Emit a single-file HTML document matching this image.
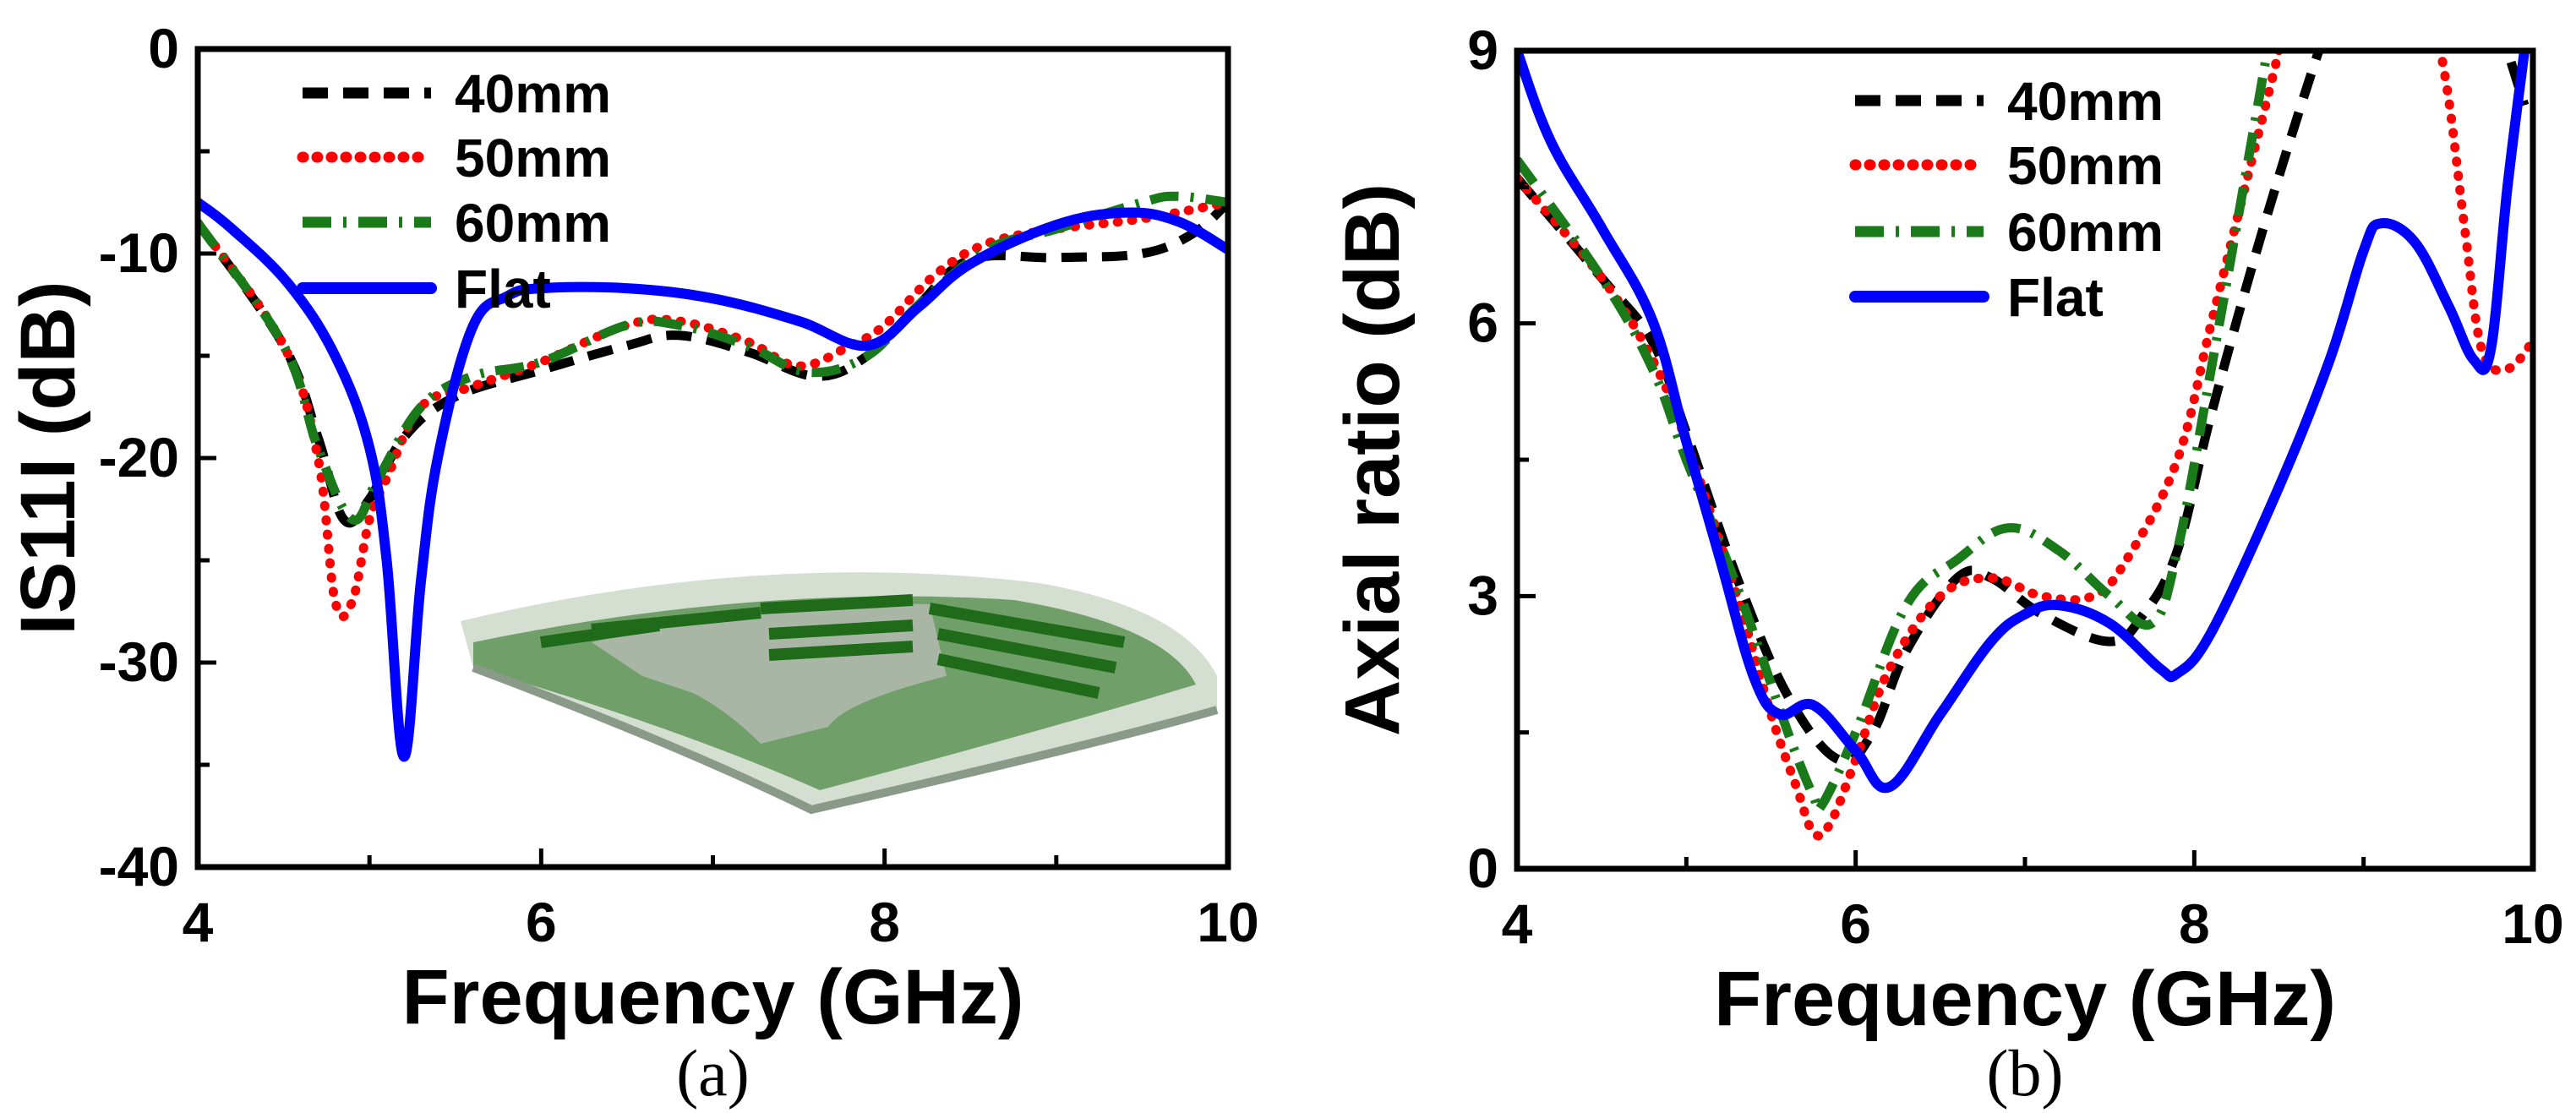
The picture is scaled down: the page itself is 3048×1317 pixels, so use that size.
<!DOCTYPE html>
<html><head><meta charset="utf-8"><style>
html,body{margin:0;padding:0;background:#fff;}
svg{display:block;font-family:"Liberation Sans",Arial,sans-serif;}
</style></head><body>
<svg id="fig" width="3048" height="1317" viewBox="0 0 3048 1317" xmlns="http://www.w3.org/2000/svg">
<g id="inset">
  <path d="M545,735 Q900,650 1230,690 Q1400,720 1440,800 L1440,840 Q1300,880 960,958 Q800,880 560,790 Z" fill="#c9d6c6" opacity="0.8"/>
  <path d="M560,760 Q900,690 1200,710 Q1380,740 1415,810 Q1250,860 970,935 Q800,860 560,790 Z" fill="#4f8a45" opacity="0.75"/>
  <path d="M700,760 Q900,710 1100,715 L1120,800 Q1000,830 980,860 L900,880 Q860,840 820,820 L760,800 Z" fill="#a9b6a6"/>
  <path d="M640,760 L780,740 M700,745 L900,725 M900,720 L1080,710 M1100,720 L1330,760 M1110,750 L1320,790 M1110,780 L1300,820 M910,750 L1080,740 M910,775 L1080,765" stroke="#1f6b1a" stroke-width="14" fill="none"/>
  <path d="M560,790 Q800,880 960,958 Q1300,880 1440,840" stroke="#8a9a88" stroke-width="10" fill="none"/>
</g>
</svg>
<script>
// ---------- Panel (a) data ----------
const aTicksX = [4,6,8,10];
const aTicksY = [0,-10,-20,-30,-40];
const aFlatX = [4,4.2,4.53,4.8,5.0,5.1,5.2,5.3,5.4,5.6,5.8,6.0,6.5,7.0,7.5,7.9,8.2,8.5,9.0,9.4,9.7,10];
const aFlatY = [-7.5,-8.8,-11.5,-15,-19.5,-25,-34.6,-26,-19.9,-13.6,-12.1,-11.7,-11.7,-12.2,-13.3,-14.5,-12.6,-10.5,-8.6,-8,-8.4,-9.8];
const a40X = [4,4.5,4.7,4.85,5.0,5.2,5.5,6.0,6.5,6.8,7.2,7.6,7.9,8.2,8.5,9.0,9.5,9.8,10];
const a40Y = [-8.5,-14.5,-19,-23,-22,-19,-17,-15.7,-14.5,-14,-14.8,-16,-15,-12.5,-10.3,-10.2,-10,-9,-7.5];
const a50X = [4,4.5,4.7,4.8,4.9,5.0,5.1,5.3,5.6,6.0,6.5,6.8,7.2,7.5,7.8,8.0,8.3,8.6,9.0,9.5,10];
const a50Y = [-8.5,-14.5,-20,-27,-27,-23,-21,-17.5,-16.5,-15.3,-13.5,-13.3,-14.3,-15.5,-14.5,-13.5,-11,-9.5,-8.8,-8.3,-7.5];
const a60X = [4,4.5,4.7,4.9,5.05,5.3,5.6,6.0,6.5,6.8,7.2,7.55,7.9,8.2,8.6,9.0,9.5,9.7,10];
const a60Y = [-8.5,-14.5,-19.5,-23,-21,-17.5,-16,-15.3,-13.5,-13.5,-14.5,-15.8,-15,-12.5,-9.8,-8.8,-7.5,-7.2,-7.5];
// ---------- Panel (b) data ----------
const bTicksX = [4,6,8,10];
const bTicksY = [0,3,6,9];
const bFlatX = [4,4.2,4.5,4.8,5.0,5.2,5.4,5.55,5.75,6.0,6.2,6.5,6.8,7.0,7.2,7.5,7.8,7.9,8.1,8.5,8.8,9.0,9.1,9.3,9.5,9.65,9.75,9.85,9.95];
const bFlatY = [9,8.0,7.05,6.03,4.7,3.4,2.1,1.7,1.8,1.3,0.9,1.7,2.5,2.8,2.9,2.7,2.2,2.15,2.6,4.2,5.6,6.8,7.1,6.9,6.2,5.6,5.7,7.5,9];
const b40X = [4,4.5,4.8,5.0,5.3,5.6,5.9,6.1,6.3,6.6,6.8,7.1,7.5,7.7,7.9,8.1,8.4,8.7,8.8,null,9.8,9.95];
const b40Y = [7.6,6.5,5.8,4.8,3.2,1.9,1.2,1.5,2.4,3.2,3.2,2.8,2.5,2.8,3.5,5.0,7.0,8.8,9.3,null,9.3,8.4];
const b50X = [4,4.5,4.8,5.0,5.3,5.5,5.65,5.75,5.85,6.0,6.2,6.5,6.8,7.1,7.4,7.6,7.9,8.1,8.3,8.5,8.55,null,9.4,9.5,9.6,9.7,9.85,10];
const b50Y = [7.6,6.5,5.6,4.7,3.0,1.7,0.9,0.4,0.5,1.2,2.2,3.0,3.2,3.0,3.0,3.4,4.5,6.0,7.5,9,9.5,null,9.5,8.5,7,5.7,5.5,5.8];
const b60X = [4,4.5,4.8,5.0,5.3,5.6,5.75,5.8,6.0,6.3,6.6,6.9,7.2,7.5,7.75,7.9,8.1,8.3,8.45];
const b60Y = [7.8,6.5,5.5,4.5,3.1,1.5,0.8,0.7,1.5,2.9,3.4,3.75,3.5,3.0,2.7,3.5,5.5,7.6,9.2];
const legendLabels = ["40mm","50mm","60mm","Flat"];

const NS="http://www.w3.org/2000/svg";
const svg=document.getElementById('fig');
function mk(tag,attrs,parent){const e=document.createElementNS(NS,tag);for(const k in attrs)e.setAttribute(k,attrs[k]);(parent||svg).appendChild(e);return e;}
const styles=[
 {stroke:"#000",dash:"30 18",w:11,cap:"butt"},
 {stroke:"#ff0000",dash:"1 16",w:11,cap:"round"},
 {stroke:"#1a7a1a",dash:"34 14 4 14",w:11,cap:"butt"},
 {stroke:"#0000ff",dash:"",w:12,cap:"round"}
];
function smoothPath(pts){
  if(pts.length<2)return '';
  let d='M'+pts[0][0].toFixed(1)+','+pts[0][1].toFixed(1);
  const t=0.18;
  for(let i=0;i<pts.length-1;i++){
    const p0=pts[Math.max(0,i-1)],p1=pts[i],p2=pts[i+1],p3=pts[Math.min(pts.length-1,i+2)];
    const c1=[p1[0]+(p2[0]-p0[0])*t,p1[1]+(p2[1]-p0[1])*t];
    const c2=[p2[0]-(p3[0]-p1[0])*t,p2[1]-(p3[1]-p1[1])*t];
    d+='C'+c1[0].toFixed(1)+','+c1[1].toFixed(1)+' '+c2[0].toFixed(1)+','+c2[1].toFixed(1)+' '+p2[0].toFixed(1)+','+p2[1].toFixed(1);
  }
  return d;
}
function panel(P){
  const g=mk('g',{});
  
  
  const sx=v=>P.x0+(v-P.xmin)/(P.xmax-P.xmin)*(P.x1-P.x0);
  const sy=v=>P.y1-(v-P.ymin)/(P.ymax-P.ymin)*(P.y1-P.y0);
  const cid='clip'+P.name;
  const cp=mk('clipPath',{id:cid},g);mk('rect',{x:P.x0,y:P.y0,width:P.x1-P.x0,height:P.y1-P.y0},cp);
  const sg=mk('g',{'clip-path':`url(#${cid})`},g);
  P.series.forEach((s,i)=>{
    let d='',seg=[];
    for(let k=0;k<=s.x.length;k++){
      if(k===s.x.length||s.x[k]===null){d+=smoothPath(seg);seg=[];continue;}
      seg.push([sx(s.x[k]),sy(s.y[k])]);
    }
    const st=styles[i];
    const p=mk('path',{d:d,fill:'none',stroke:st.stroke,'stroke-width':st.w,'stroke-dasharray':st.dash,'stroke-linecap':st.cap,'stroke-linejoin':'round'},sg);
    
    
  });
  const box=mk('rect',{x:P.x0,y:P.y0,width:P.x1-P.x0,height:P.y1-P.y0,fill:'none',stroke:'#000','stroke-width':7},g);
  
  
  for(let v=P.xmin;v<=P.xmax+1e-9;v+=P.xminor){
    const major=P.ticksX.some(t=>Math.abs(t-v)<1e-6);
    const X=sx(v);
    mk('line',{x1:X,x2:X,y1:P.y1,y2:P.y1-(major?22:14),stroke:'#000','stroke-width':5},g);
  }
  P.ticksX.forEach(v=>{
    const t=mk('text',{x:sx(v),y:P.y1+88,'text-anchor':'middle','font-size':66,'font-weight':'bold'},g);t.textContent=v;
    
    
  });
  for(let v=P.ymin;v<=P.ymax+1e-9;v+=P.yminor){
    const major=P.ticksY.some(t=>Math.abs(t-v)<1e-6);
    const Y=sy(v);
    mk('line',{x1:P.x0,x2:P.x0+(major?22:14),y1:Y,y2:Y,stroke:'#000','stroke-width':5},g);
  }
  P.ticksY.forEach(v=>{
    const t=mk('text',{x:P.x0-22,y:sy(v)+22,'text-anchor':'end','font-size':66,'font-weight':'bold'},g);t.textContent=v;
    
    
  });
  const xt=mk('text',{x:(P.x0+P.x1)/2,y:P.y1+185,'text-anchor':'middle','font-size':92,'font-weight':'bold'},g);
  xt.textContent='Frequency (GHz)';
  
  
  const yt=mk('text',{x:0,y:0,'text-anchor':'middle','font-size':92,'font-weight':'bold',transform:`translate(${P.ytx},${(P.y0+P.y1)/2}) rotate(-90)`},g);
  yt.textContent=P.ytitle;
  
  
  const cap=mk('text',{x:(P.x0+P.x1)/2,y:1296,'text-anchor':'middle','font-size':78,'font-family':'Liberation Serif, serif'},g);
  cap.textContent=P.caption;
  
  
  legendLabels.forEach((lab,i)=>{
    const Y=P.legY[i];const st=styles[i];
    const ln=mk('line',{x1:P.legX,x2:P.legX+152,y1:Y,y2:Y,stroke:st.stroke,'stroke-width':st.w+2,'stroke-dasharray':st.dash,'stroke-linecap':st.cap},g);
    
    
    const t=mk('text',{x:P.legX+180,y:Y+23,'font-size':64,'font-weight':'bold'},g);t.textContent=lab;
    
    
  });
}
panel({name:'panel-a',x0:234,x1:1453,y0:58,y1:1026,xmin:4,xmax:10,ymin:-40,ymax:0,xminor:1,yminor:5,
  ticksX:aTicksX,ticksY:aTicksY,ytitle:'IS11I (dB)',ytx:88,caption:'(a)',legX:358,legY:[110,186,263,341],
  series:[{x:a40X,y:a40Y},{x:a50X,y:a50Y},{x:a60X,y:a60Y},{x:aFlatX,y:aFlatY}]});
panel({name:'panel-b',x0:1795,x1:2997,y0:60,y1:1028,xmin:4,xmax:10,ymin:0,ymax:9,xminor:1,yminor:1.5,
  ticksX:bTicksX,ticksY:bTicksY,ytitle:'Axial ratio (dB)',ytx:1655,caption:'(b)',legX:2195,legY:[119,195,274,351],
  series:[{x:b40X,y:b40Y},{x:b50X,y:b50Y},{x:b60X,y:b60Y},{x:bFlatX,y:bFlatY}]});
</script>
</body></html>
